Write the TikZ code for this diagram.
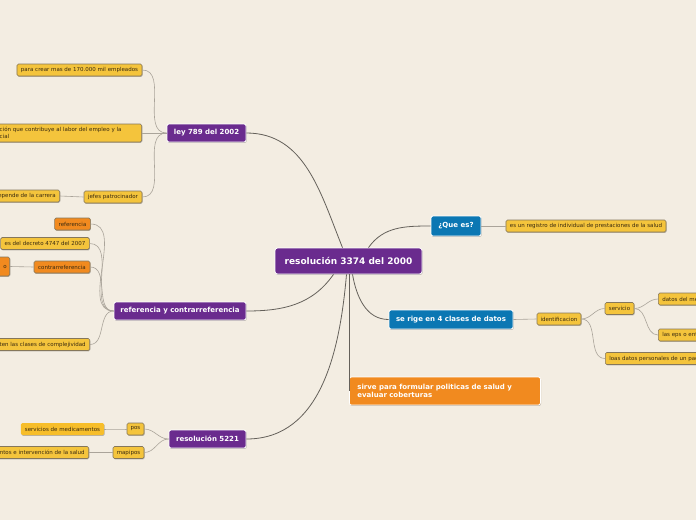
\documentclass[tikz,border=0pt]{standalone}
\usepackage{fontspec}
\setmainfont{DejaVu Sans}
\usepackage{xcolor}
\usepackage{tikz}
\usetikzlibrary{shadows}
\definecolor{bgx}{HTML}{F3EDE2}
\definecolor{purplex}{HTML}{6A2B8E}
\definecolor{bluex}{HTML}{0B77B3}
\definecolor{orangex}{HTML}{F18A1F}
\definecolor{yellowx}{HTML}{F4C43C}
\definecolor{goldx}{HTML}{F7BE2A}
\definecolor{edgex}{HTML}{85775B}
\definecolor{linex}{HTML}{64605A}
\definecolor{leafline}{HTML}{AAA49A}
\definecolor{inkx}{HTML}{3A2A10}
\tikzset{
  shad/.style={drop shadow={shadow xshift=0.6pt,shadow yshift=-0.9pt,opacity=0.25,fill=black}},
  rootbox/.style={draw=white,line width=0.8pt,rounded corners=2.5pt,fill=purplex,text=white,
    font=\bfseries\fontsize{9}{10}\selectfont,minimum width=147pt,minimum height=26pt,shad},
  mainbox/.style={draw=white,line width=0.8pt,rounded corners=2pt,fill=purplex,text=white,
    font=\bfseries\fontsize{7}{8.5}\selectfont,minimum height=18pt,inner xsep=5pt,shad},
  bluebox/.style={mainbox,fill=bluex},
  notebox/.style={mainbox,fill=orangex,align=left,text width=175pt,inner xsep=8pt,minimum height=28pt},
  leaf/.style={draw=edgex,line width=0.6pt,rounded corners=1.5pt,fill=yellowx,text=inkx,
    font=\fontsize{5.5}{6.5}\selectfont,minimum height=12pt,inner xsep=4pt,inner ysep=1pt,shad},
  oleaf/.style={leaf,fill=orangex},
  pleaf/.style={leaf,draw=none,fill=goldx},
  br/.style={linex,line width=0.8pt},
  lf/.style={leafline,line width=0.6pt}
}

\begin{document}
\begin{tikzpicture}[x=1pt,y=-1pt]
\fill[bgx] (0,0) rectangle (696,520);
\useasboundingbox (0,0) rectangle (696,520);
\clip (0,0) rectangle (696,520);

% centro
\node[rootbox] (root) at (348.5,261) {resolución 3374 del 2000};

% ramas
\node[mainbox,minimum width=79pt] (ley) at (206.5,133) {ley 789 del 2002};
\node[mainbox,minimum width=132pt] (refc) at (180,311) {referencia y contrarreferencia};
\node[mainbox,minimum width=77pt] (res) at (207.5,439) {resolución 5221};
\node[bluebox,minimum width=50pt,minimum height=20pt] (que) at (456,226) {¿Que es?};
\node[bluebox,minimum width=124pt,minimum height=19pt] (rige) at (451,319.5) {se rige en 4 clases de datos};
\node[notebox,anchor=west] (sirve) at (349,391) {sirve para formular politicas de salud y\\evaluar coberturas};

% ley 789
\node[leaf,minimum width=125pt] (crear) at (79.5,70) {para crear mas de 170.000 mil empleados};
\node[leaf,anchor=east,align=left,text width=138pt,minimum height=18pt] (labor) at (142,133)
  {ción que contribuye al labor del empleo y la\\cial};
\node[leaf,minimum width=58pt] (jefes) at (113,197) {jefes patrocinador};
\node[leaf,anchor=east] (carrera) at (60,196) {depende de la carrera};

% referencia
\node[oleaf,minimum width=35pt] (refe) at (72.5,224) {referencia};
\node[leaf,minimum width=88pt] (decreto) at (45,243.5) {es del decreto 4747 del 2007};
\node[oleaf,minimum width=56pt] (contra) at (62,267) {contrarreferencia};
\node[oleaf,anchor=east,align=right,text width=44pt,minimum height=19pt,inner xsep=3pt] (contrab) at (10,266.5) {o};
\node[leaf,anchor=east] (clases) at (90,344.5) {ten las clases de complejividad};

% resolucion 5221
\node[leaf,minimum width=17pt,inner xsep=2pt] (pos) at (135.5,429) {pos};
\node[pleaf,minimum width=81pt] (medic) at (62.5,429) {servicios de medicamentos};
\node[leaf,minimum width=31pt,inner xsep=2pt] (mapi) at (128.5,452.5) {mapipos};
\node[leaf,anchor=east] (interv) at (89,452.5) {ntos e intervención de la salud};

% que es / datos
\node[leaf,minimum width=160pt] (regis) at (586,226) {es un registro de individual de prestaciones de la salud};
\node[leaf,minimum width=44pt,inner xsep=2pt] (ident) at (559,319) {identificacion};
\node[leaf,minimum width=29pt,inner xsep=2pt] (serv) at (619.5,308.5) {servicio};
\node[leaf,anchor=west] (medico) at (658,299) {datos del medico};
\node[leaf,anchor=west] (eps) at (658,335) {las eps o entidades};
\node[leaf,anchor=west] (loas) at (605,358.5) {loas datos personales de un paciente};

% conectores principales
\draw[br] (ley.east) to[out=0,in=112] ([xshift=-6pt]root.north);
\draw[br] (refc.east) to[out=0,in=235] ([xshift=-15pt]root.south);
\draw[br] (res.east) to[out=0,in=-95] ([xshift=-2pt]root.south);
\draw[br] (root.south -| sirve.west) -- (sirve.west);
\draw[br] ([xshift=20pt]root.north) to[out=55,in=180] (que.west);
\draw[br] ([xshift=4pt]root.south) to[out=-80,in=180] (rige.west);

% conectores de hojas
\draw[lf] (crear.east) to[out=0,in=180] (ley.west);
\draw[lf] (labor.east) -- (ley.west);
\draw[lf] (jefes.east) to[out=0,in=180] (ley.west);
\draw[lf] (carrera.east) -- (jefes.west);
\draw[lf] (refe.east) to[out=0,in=180] (refc.west);
\draw[lf] (decreto.east) to[out=0,in=180] (refc.west);
\draw[lf] (contra.east) to[out=0,in=180] (refc.west);
\draw[lf] (contra.west) -- (contrab.east);
\draw[lf] (clases.east) to[out=0,in=180] (refc.west);
\draw[lf] (pos.east) to[out=0,in=180] (res.west);
\draw[lf] (mapi.east) to[out=0,in=180] (res.west);
\draw[lf] (medic.east) to[out=0,in=180] (pos.west);
\draw[lf] (interv.east) -- (mapi.west);
\draw[lf] (que.east) -- (regis.west);
\draw[lf] (rige.east) -- (ident.west);
\draw[lf] (ident.east) to[out=0,in=180] (serv.west);
\draw[lf] (ident.east) to[out=0,in=180] (loas.west);
\draw[lf] (serv.east) to[out=0,in=180] (medico.west);
\draw[lf] (serv.east) to[out=0,in=180] (eps.west);
\end{tikzpicture}
\end{document}
